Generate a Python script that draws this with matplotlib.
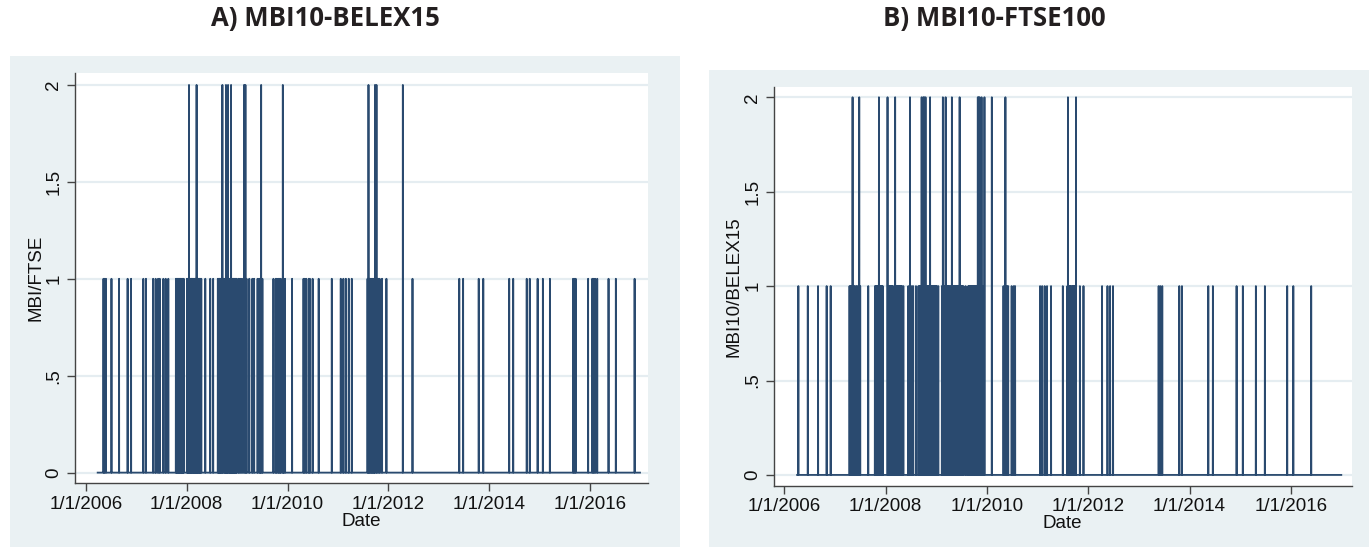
import pandas as pd
import matplotlib.pyplot as plt
from matplotlib.patches import Rectangle

# ------------------------
# Data: days with a signal (all other days are 0)
# ------------------------
a_ones = [
    '2006-05-08', '2006-05-15', '2006-05-26', '2006-07-05', '2006-08-29', '2006-10-30', '2006-11-24',
    '2007-02-21', '2007-03-12', '2007-05-03', '2007-05-21', '2007-06-08', '2007-06-20', '2007-07-16',
    '2007-08-02', '2007-08-21', '2007-10-15', '2007-10-19', '2007-10-24', '2007-10-30', '2007-11-05',
    '2007-11-09', '2007-11-14', '2007-11-20', '2007-11-26', '2007-11-30', '2007-12-06', '2007-12-11',
    '2008-01-03', '2008-01-08', '2008-01-14', '2008-01-24', '2008-01-29', '2008-02-04', '2008-02-08',
    '2008-02-14', '2008-02-20', '2008-02-26', '2008-03-03', '2008-03-07', '2008-03-19', '2008-03-25',
    '2008-03-31', '2008-04-04', '2008-04-10', '2008-04-16', '2008-05-15', '2008-06-20', '2008-07-11',
    '2008-08-14', '2008-08-19', '2008-08-25', '2008-08-29', '2008-09-03', '2008-09-09', '2008-09-22',
    '2008-10-02', '2008-10-07', '2008-10-17', '2008-10-22', '2008-11-03', '2008-11-07', '2008-11-12',
    '2008-11-24', '2008-11-28', '2008-12-03', '2008-12-08', '2008-12-12', '2008-12-17', '2008-12-23',
    '2008-12-29', '2009-01-12', '2009-01-22', '2009-02-05', '2009-03-10', '2009-03-30', '2009-04-21',
    '2009-05-04', '2009-05-29', '2009-06-10', '2009-06-18', '2009-07-03', '2009-09-21', '2009-10-08',
    '2009-10-16', '2009-10-28', '2009-11-06', '2009-11-13', '2009-12-04', '2009-12-14',
    '2010-02-03', '2010-04-27', '2010-05-06', '2010-05-17', '2010-06-04', '2010-06-12', '2010-07-02',
    '2010-08-15', '2010-11-18', '2011-01-22', '2011-02-10', '2011-02-28', '2011-03-21', '2011-04-12',
    '2011-08-04', '2011-08-17', '2011-08-24', '2011-09-01', '2011-09-08', '2011-09-15', '2011-09-22',
    '2011-10-19', '2011-10-31', '2011-11-17', '2011-12-19', '2012-06-25', '2013-05-30', '2013-06-27',
    '2013-10-18', '2013-11-20', '2014-05-27', '2014-06-25', '2014-10-01', '2014-10-23', '2014-12-19',
    '2015-01-26', '2015-03-18', '2015-09-02', '2015-09-10', '2015-09-21', '2015-12-20', '2016-01-19',
    '2016-01-29', '2016-02-08', '2016-02-24', '2016-05-16', '2016-07-08', '2016-11-21',
]
a_twos = [
    '2008-01-18', '2008-03-13', '2008-09-16', '2008-10-12', '2008-10-27', '2008-11-18', '2009-02-20',
    '2009-03-02', '2009-06-24', '2009-11-28', '2011-08-11', '2011-09-27', '2011-10-08', '2012-04-16',
]
b_ones = [
    '2006-04-12', '2006-06-19', '2006-09-01', '2006-11-02', '2006-12-01',
    '2007-04-16', '2007-04-23', '2007-04-30', '2007-05-17', '2007-05-25', '2007-06-04', '2007-06-12',
    '2007-07-02', '2007-08-29', '2007-10-16', '2007-10-22', '2007-10-29', '2007-11-05', '2007-11-21',
    '2007-11-28', '2007-12-05', '2007-12-12', '2008-01-21', '2008-01-28', '2008-02-04', '2008-02-11',
    '2008-02-18', '2008-02-25', '2008-03-17', '2008-03-24', '2008-03-31', '2008-04-07', '2008-04-14',
    '2008-04-21', '2008-04-28', '2008-05-08', '2008-06-13', '2008-07-08', '2008-07-18', '2008-08-07',
    '2008-08-25', '2008-09-01', '2008-09-08', '2008-09-12', '2008-09-23', '2008-10-10', '2008-10-21',
    '2008-10-27', '2008-11-03', '2008-11-10', '2008-11-24', '2008-12-01', '2008-12-08', '2008-12-15',
    '2008-12-22', '2008-12-29', '2009-01-05', '2009-01-15', '2009-02-10', '2009-02-24', '2009-03-03',
    '2009-03-16', '2009-03-23', '2009-03-30', '2009-04-06', '2009-04-14', '2009-04-29', '2009-05-06',
    '2009-05-13', '2009-05-20', '2009-05-27', '2009-06-03', '2009-06-10', '2009-06-24', '2009-07-01',
    '2009-07-08', '2009-07-15', '2009-07-31', '2009-08-19', '2009-08-26', '2009-09-02', '2009-09-09',
    '2009-09-16', '2009-09-23', '2009-09-30', '2009-10-07', '2009-10-14', '2009-10-21', '2009-11-16',
    '2009-11-30', '2009-12-07', '2010-04-30', '2010-05-26', '2010-06-03', '2010-06-28', '2010-07-13',
    '2010-07-23', '2011-01-19', '2011-02-03', '2011-02-21', '2011-03-10', '2011-04-08', '2011-07-02',
    '2011-08-04', '2011-08-15', '2011-08-22', '2011-08-29', '2011-09-06', '2011-09-13', '2011-09-20',
    '2011-09-27', '2011-11-02', '2011-11-28', '2012-04-10', '2012-05-19', '2012-06-07', '2012-06-28',
    '2013-05-23', '2013-06-04', '2013-06-18', '2013-10-19', '2013-11-07', '2014-05-16', '2014-06-18',
    '2014-12-06', '2015-01-20', '2015-04-24', '2015-06-28', '2015-12-06', '2016-01-19', '2016-05-27',
]
b_twos = [
    '2007-05-08', '2007-06-25', '2007-11-14', '2008-01-15', '2008-03-10', '2008-06-25', '2008-09-17',
    '2008-09-29', '2008-10-06', '2008-10-15', '2008-11-17', '2009-02-17', '2009-03-09', '2009-04-23',
    '2009-06-18', '2009-10-27', '2009-11-02', '2009-11-09', '2009-11-23', '2009-12-14', '2010-02-05',
    '2010-05-14', '2011-08-08', '2011-10-05',
]
a_span = ['2006-03-27', '2016-12-30']
b_span = ['2006-04-03', '2016-12-30']

y_ticks = [0, 0.5, 1, 1.5, 2]
y_tick_labels = ['0', '.5', '1', '1.5', '2']
x_tick_years = [2006, 2008, 2010, 2012, 2014, 2016]
x_tick_labels = ['1/1/%d' % y for y in x_tick_years]

titles = ['A) MBI10-BELEX15', 'B) MBI10-FTSE100']
y_labels = ['MBI/FTSE', 'MBI10/BELEX15']

LINE = '#2a4a6f'
BG = '#eaf1f3'
GRID = '#e5edf1'
FONT = 'Liberation Sans'


def build_series(span, ones, twos):
    days = pd.date_range(span[0], span[1], freq='D')
    s = pd.Series(0.0, index=days)
    s[pd.to_datetime(ones)] = 1
    s[pd.to_datetime(twos)] = 2
    return s


def style_axis(ax, ylabel, ylim, xlim):
    ax.set_facecolor('white')
    for side in ['top', 'right']:
        ax.spines[side].set_visible(False)
    for side in ['left', 'bottom']:
        ax.spines[side].set_color('#444444')
        ax.spines[side].set_linewidth(1.0)
    ax.set_ylim(*ylim)
    ax.set_xlim(pd.Timestamp(xlim[0]), pd.Timestamp(xlim[1]))
    ax.set_yticks(y_ticks)
    ax.set_yticklabels(y_tick_labels, rotation=90, va='center', family=FONT, fontsize=13.5)
    ax.set_xticks([pd.Timestamp('%d-01-01' % y) for y in x_tick_years])
    ax.set_xticklabels(x_tick_labels, family=FONT, fontsize=13.5)
    ax.tick_params(axis='both', length=6, width=1, color='#444444', pad=3, labelcolor='#111111')
    ax.grid(axis='y', color=GRID, linewidth=1.6)
    ax.set_axisbelow(True)
    ax.set_xlabel('Date', family=FONT, fontsize=13.5, labelpad=0, color='#111111')
    ax.set_ylabel(ylabel, family=FONT, fontsize=13.5, labelpad=1, color='#111111')


fig = plt.figure(figsize=(13.72, 5.48), dpi=100)

# panel backgrounds (Stata graph region)
fig.patches.append(Rectangle((0.0073, 0.002), 0.4880, 0.896, transform=fig.transFigure,
                             facecolor=BG, edgecolor='none', zorder=-10))
fig.patches.append(Rectangle((0.5168, 0.002), 0.4810, 0.870, transform=fig.transFigure,
                             facecolor=BG, edgecolor='none', zorder=-10))

ax_a = fig.add_axes([0.0546, 0.1181, 0.4179, 0.7481])
ax_b = fig.add_axes([0.5640, 0.1137, 0.4211, 0.7281])

series_a = build_series(a_span, a_ones, a_twos)
series_b = build_series(b_span, b_ones, b_twos)

ax_a.plot(series_a.index, series_a.values, color=LINE, linewidth=1.3)
ax_b.plot(series_b.index, series_b.values, color=LINE, linewidth=1.3)

style_axis(ax_a, y_labels[0], (-0.055, 2.06), ('2005-10-13', '2017-02-28'))
style_axis(ax_b, y_labels[1], (-0.057, 2.056), ('2005-10-17', '2017-03-14'))

fig.text(0.237, 0.967, titles[0], ha='center', va='center', family='Open Sans',
         fontweight='bold', fontsize=18.5, color='#231f20')
fig.text(0.725, 0.967, titles[1], ha='center', va='center', family='Open Sans',
         fontweight='bold', fontsize=18.5, color='#231f20')

fig.savefig('out.png', dpi=100, facecolor='white')
